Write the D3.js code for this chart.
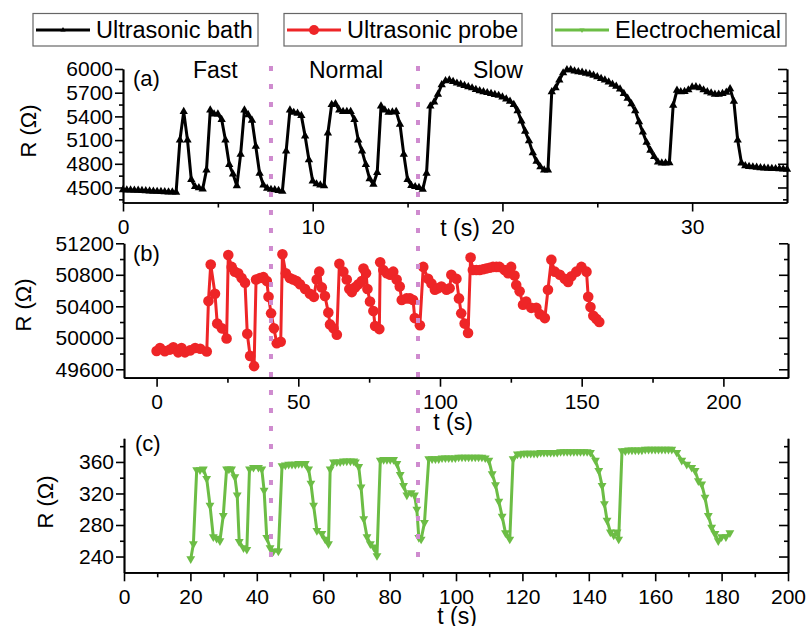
<!DOCTYPE html>
<html><head><meta charset="utf-8">
<script src="https://cdn.jsdelivr.net/npm/d3@7"></script>
<style>
body{margin:0;background:#fff}
svg{display:block}
text{font-family:"Liberation Sans",Arial,sans-serif;fill:#000}
</style>
</head><body>
<svg id="chart" width="806" height="626"></svg>
<script>
// ---------------- DATA ----------------
const seriesNames = ["Ultrasonic bath", "Ultrasonic probe", "Electrochemical"];
const panelLetters = ["(a)", "(b)", "(c)"];
const sectionLabels = ["Fast", "Normal", "Slow"];
const dividerTimes = [7.8, 15.55]; // seconds on panel (a) time axis

// (a) Ultrasonic bath: [t (s), R (Ω)]
const bathData = [
[0.0,4470],[0.2,4468],[0.4,4466],[0.6,4465],[0.8,4463],[1.0,4460],[1.2,4458],[1.4,4455],[1.6,4452],[1.8,4450],
[2.0,4448],[2.2,4445],[2.4,4443],[2.6,4442],[2.8,4440],[3.0,5100],[3.2,5460],[3.4,5100],[3.6,4600],[3.8,4510],
[4.0,4495],[4.2,4480],[4.4,4720],[4.6,5480],[4.8,5430],[5.0,5430],[5.2,5360],[5.4,5100],[5.6,4790],[5.8,4670],
[6.0,4520],[6.2,4920],[6.4,5480],[6.6,5420],[6.8,5350],[7.0,5020],[7.2,4680],[7.4,4530],[7.6,4490],[7.8,4475],
[8.0,4470],[8.2,4460],[8.4,4450],[8.6,4960],[8.8,5480],[9.0,5450],[9.2,5440],[9.4,5410],[9.6,5150],[9.8,4850],
[10.0,4580],[10.2,4545],[10.4,4530],[10.6,4520],[10.8,5190],[11.0,5550],[11.2,5560],[11.4,5480],[11.6,5460],[11.8,5460],
[12.0,5460],[12.2,5360],[12.4,5100],[12.6,4960],[12.8,4790],[13.0,4610],[13.2,4540],[13.4,4690],[13.6,5530],[13.8,5480],
[14.0,5450],[14.2,5455],[14.4,5460],[14.6,5300],[14.8,4920],[15.0,4600],[15.2,4525],[15.4,4510],[15.6,4500],[15.8,4475],
[16.0,4680],[16.2,5530],[16.4,5580],[16.6,5680],[16.8,5800],[17.0,5850],[17.2,5860],[17.4,5840],[17.6,5820],[17.8,5805],
[18.0,5790],[18.2,5775],[18.4,5760],[18.6,5740],[18.8,5725],[19.0,5710],[19.2,5700],[19.4,5690],[19.6,5675],[19.8,5665],
[20.0,5645],[20.2,5620],[20.4,5590],[20.6,5550],[20.8,5470],[21.0,5340],[21.2,5210],[21.4,5090],[21.6,4940],[21.8,4830],
[22.0,4760],[22.2,4720],[22.4,4720],[22.6,5710],[22.8,5760],[23.0,5860],[23.2,5950],[23.4,5990],[23.6,5990],[23.8,5975],
[24.0,5965],[24.2,5958],[24.4,5945],[24.6,5935],[24.8,5920],[25.0,5900],[25.2,5880],[25.4,5860],[25.6,5835],[25.8,5805],
[26.0,5780],[26.2,5745],[26.4,5690],[26.6,5630],[26.8,5560],[27.0,5470],[27.2,5330],[27.4,5200],[27.6,5070],[27.8,4970],
[28.0,4890],[28.2,4820],[28.4,4810],[28.6,4810],[28.8,4812],[29.0,5540],[29.2,5730],[29.4,5710],[29.6,5715],[29.8,5735],
[30.0,5770],[30.2,5775],[30.4,5760],[30.6,5735],[30.8,5710],[31.0,5695],[31.2,5680],[31.4,5680],[31.6,5690],[31.8,5705],
[32.0,5750],[32.2,5590],[32.4,5100],[32.6,4810],[32.8,4775],[33.0,4765],[33.2,4760],[33.4,4755],[33.6,4750],[33.8,4745],
[34.0,4742],[34.2,4740],[34.4,4738],[34.6,4735],[34.8,4732],[35.0,4730]
];

// (b) Ultrasonic probe
const probeData = [
[0,49832],[1.2,49870],[2.9,49830],[4.7,49850],[5.9,49880],[7.6,49815],[8.8,49870],[10,49815],[11.8,49840],[13.6,49870],
[15.4,49860],[17.7,49825],[18.3,50467],[19.1,50930],[20.6,50560],[21.4,50180],[23,50120],[24.7,49990],[25.3,51050],[26.5,50900],
[27.6,50840],[28.8,50820],[30,50760],[31.2,50700],[32,50050],[33,49770],[34.4,49640],[35.1,50740],[36.5,50760],[37.7,50770],
[38.9,50720],[39.5,50520],[40.4,50310],[41.4,50120],[42.4,49930],[43.8,49950],[44.4,51060],[45.6,50820],[47,50760],[48.2,50740],
[49.4,50720],[50.6,50680],[52.4,50620],[54.1,50560],[55.5,50520],[56.5,50740],[57.4,50840],[58.3,50640],[59.4,50530],[60.6,50320],
[61.2,50170],[62.4,50120],[63.6,50040],[64.5,50940],[65.9,50840],[67.1,50740],[68,50620],[68.9,50580],[70,50640],[71.2,50680],
[72.4,50720],[73,50880],[73.9,50820],[74.4,50620],[75.3,50460],[76.5,50340],[77.1,50150],[78.6,50110],[78.9,50960],[80,50860],
[81.2,50820],[82.4,50800],[83.5,50840],[84.7,50740],[85.8,50650],[86.5,50480],[88.2,50500],[89.4,50500],[90.5,50480],[91.1,50250],
[92.9,50160],[94.1,50900],[95.8,50750],[97,50690],[98.2,50610],[99.3,50630],[100.5,50650],[102.3,50610],[103.4,50630],[104,50800],
[105.8,50750],[106.7,50500],[107.5,50310],[108.7,50180],[109.9,50060],[110.8,51020],[111.6,50860],[112.8,50860],[114,50860],[115.2,50870],
[116.3,50880],[117.5,50890],[118.7,50900],[119.9,50900],[121,50900],[122.8,50860],[124,50820],[125.1,50900],[126.3,50790],[126.9,50670],
[128.1,50590],[129.3,50420],[130.4,50460],[132.2,50380],[134,50380],[135.2,50300],[137,50250],[138.1,50610],[139.3,50990],[140.5,50840],
[142.3,50800],[144,50750],[145.2,50710],[146.4,50780],[148.1,50840],[149.9,50900],[151.7,50840],[152.3,50520],[153.1,50390],[154.1,50280],
[155.2,50240],[156.2,50200]
];

// (c) Electrochemical
const echemData = [
[20.1,237],[20.9,256],[21.9,350],[22.9,350],[23.9,351],[24.9,339],[25.9,305],[26.9,265],[27.9,263],[28.9,260],
[29.9,292],[30.9,351],[31.6,351],[32.4,351],[33.4,341],[34.1,318],[34.7,259],[36,251],[37,249],[37.8,351],
[39,353],[40.5,353],[41.5,351],[42.2,324],[43,264],[44,251],[45,247],[46.5,247],[47.6,355],[48.6,356],
[49.6,357],[50.6,357],[51.6,357],[52.6,358],[53.6,358],[54.6,358],[55.6,351],[56.3,333],[57.1,305],[58.1,273],
[59.6,269],[60.6,262],[61.6,256],[62.1,351],[63.1,360],[64.1,360],[65.1,360],[66.1,361],[67.1,361],[68.2,361],
[69.2,361],[69.7,360],[70.7,354],[71.4,328],[72.2,288],[73.2,265],[74.2,256],[75.2,252],[76.2,241],[77.2,362],
[78.2,363],[79.2,363],[80.2,363],[81.2,363],[82.2,358],[83.2,344],[84.2,330],[85.2,318],[86.5,321],[87.5,318],
[88.2,300],[88.8,264],[89.5,262],[90.5,283],[91.8,364],[92.8,364],[93.8,364],[94.8,364],[95.8,365],[96.8,365],
[97.8,365],[98.8,365],[99.8,365],[100.8,366],[101.8,366],[102.8,366],[103.8,366],[104.8,366],[105.8,366],[106.8,366],
[107.8,366],[108.8,365],[109.9,362],[110.9,345],[111.9,331],[112.9,310],[113.9,291],[114.9,270],[116.2,262],[117.2,364],
[118.5,370],[119.5,370],[120.5,371],[121.5,371],[122.5,371],[123.5,371],[124.5,371],[125.5,372],[126.5,372],[127.5,372],
[128.5,372],[129.5,372],[130.5,372],[131.5,373],[132.5,373],[133.5,373],[134.5,373],[135.5,373],[136.5,373],[137.5,373],
[138.5,373],[139.5,373],[140.5,372],[142,362],[143,349],[144,330],[144.7,307],[145.5,286],[146.5,271],[147.5,267],
[148.5,271],[149,262],[150,374],[151,374],[152,375],[153,375],[154,375],[155,375],[156,375],[157,376],
[158,376],[159,376],[160,376],[161,376],[162,376],[163,376],[164,376],[165,376],[166.5,372],[168,362],
[169.5,357],[171,353],[172,349],[173,336],[174,332],[175,315],[176,292],[177,277],[178,269],[179,260],
[180,265],[181.3,265],[182.5,270]
];

// tick values
const bathXTicks = [0, 10, 20, 30];
const bathXMinor = [5, 15, 25];
const bathYTicks = [4500, 4800, 5100, 5400, 5700, 6000];
const bathYMinor = [4350, 4650, 4950, 5250, 5550, 5850];
const probeXTicks = [0, 50, 100, 150, 200];
const probeXMinor = [25, 75, 125, 175];
const probeYTicks = [49600, 50000, 50400, 50800, 51200];
const probeYMinor = [49800, 50200, 50600, 51000];
const echemXTicks = [0, 20, 40, 60, 80, 100, 120, 140, 160, 180, 200];
const echemXMinor = [10, 30, 50, 70, 90, 110, 130, 150, 170, 190];
const echemYTicks = [240, 280, 320, 360];
const echemYMinor = [260, 300, 340, 380];

// ---------------- DRAW ----------------
const svg = d3.select("#chart");
const BLACK = "#000", RED = "#ee2527", GREEN = "#6cbd45", PURPLE = "#cf8bcf";

const panels = [
  {data: bathData, color: BLACK, xd: [0, 35], xr: [123, 787], yd: [4310, 6000], yr: [202.5, 69],
   xt: bathXTicks, xm: bathXMinor, yt: bathYTicks, ym: bathYMinor, xpad: 8, letter: [133, 86],
   ttl: [460, 236], rlab: [28, 131], marker: "tri", lw: 3},
  {data: probeData, color: RED, xd: [-11.5, 222.8], xr: [124, 788], yd: [49493, 51200], yr: [377.7, 243.3],
   xt: probeXTicks, xm: probeXMinor, yt: probeYTicks, ym: probeYMinor, xpad: 7, letter: [133, 261],
   ttl: [453, 430], rlab: [23, 305], marker: "circle", lw: 3},
  {data: echemData, color: GREEN, xd: [0, 200], xr: [124, 788], yd: [220, 390], yr: [572.3, 438.3],
   xt: echemXTicks, xm: echemXMinor, yt: echemYTicks, ym: echemYMinor, xpad: 8, letter: [135, 451],
   ttl: [457, 624], rlab: [45, 502], marker: "dtri", lw: 3}
];

const scales = [];
panels.forEach((p, i) => {
  const x = d3.scaleLinear().domain(p.xd).range(p.xr);
  const y = d3.scaleLinear().domain(p.yd).range(p.yr);
  scales.push({x, y});
  const g = svg.append("g");
  const styleAxis = sel => {
    sel.selectAll("path.domain").attr("stroke", "#000").attr("stroke-width", 1.7);
    sel.selectAll(".tick line").attr("stroke", "#000").attr("stroke-width", 1.6);
    sel.selectAll(".tick text").style("font-size", "21px").style("font-family", '"Liberation Sans",Arial,sans-serif');
  };
  // left axis major
  g.append("g").attr("transform", `translate(${p.xr[0]},0)`)
    .call(d3.axisLeft(y).tickValues(p.yt).tickSize(8).tickSizeOuter(0).tickPadding(2).tickFormat(d3.format("d")))
    .call(styleAxis);
  g.append("g").attr("transform", `translate(${p.xr[0]},0)`)
    .call(d3.axisLeft(y).tickValues(p.ym).tickSize(4).tickSizeOuter(0).tickFormat(""))
    .call(styleAxis);
  // right axis (inward ticks)
  g.append("g").attr("transform", `translate(${p.xr[1]},0)`)
    .call(d3.axisLeft(y).tickValues(p.yt).tickSize(9).tickSizeOuter(0).tickFormat(""))
    .call(styleAxis);
  g.append("g").attr("transform", `translate(${p.xr[1]},0)`)
    .call(d3.axisLeft(y).tickValues(p.ym).tickSize(4).tickSizeOuter(0).tickFormat(""))
    .call(styleAxis);
  // bottom axis
  const y0 = p.yr[0];
  g.append("g").attr("transform", `translate(0,${y0})`)
    .call(d3.axisBottom(x).tickValues(p.xt).tickSize(9).tickSizeOuter(0).tickPadding(p.xpad).tickFormat(d3.format("d")))
    .call(styleAxis);
  g.append("g").attr("transform", `translate(0,${y0})`)
    .call(d3.axisBottom(x).tickValues(p.xm).tickSize(5).tickSizeOuter(0).tickFormat(""))
    .call(styleAxis);

  // line
  const line = d3.line().x(d => x(d[0])).y(d => y(d[1]));
  g.append("path").datum(p.data).attr("d", line).attr("fill", "none")
    .attr("stroke", p.color).attr("stroke-width", p.lw).attr("stroke-linejoin", "round");
  // markers
  if (p.marker === "circle") {
    g.append("g").selectAll("circle").data(p.data).join("circle")
      .attr("cx", d => x(d[0])).attr("cy", d => y(d[1])).attr("r", 5.3).attr("fill", p.color);
  } else {
    const sym = d3.symbol().type(d3.symbolTriangle).size(p.marker === "tri" ? 30 : 34);
    g.append("g").selectAll("path").data(p.data).join("path")
      .attr("d", sym)
      .attr("transform", d => `translate(${x(d[0])},${y(d[1])})` + (p.marker === "dtri" ? " rotate(180)" : ""))
      .attr("fill", p.color);
  }
  // letter
  g.append("text").attr("x", p.letter[0]).attr("y", p.letter[1]).style("font-size", "22px").text(panelLetters[i]);
  // x title
  g.append("text").attr("x", p.ttl[0]).attr("y", p.ttl[1]).attr("text-anchor", "middle")
    .style("font-size", "23px").text("t (s)");
  // y title
  g.append("text").attr("transform", `translate(${p.rlab[0]},${p.rlab[1]}) rotate(-90)`)
    .attr("text-anchor", "middle").attr("dy", "0.35em").style("font-size", "22px").text("R (Ω)");
});

// section labels on panel (a)
const sectionX = [193, 309, 473];
sectionLabels.forEach((s, i) => {
  svg.append("text").attr("x", sectionX[i]).attr("y", 78).style("font-size", "23px").text(s);
});

// divider dotted lines (drawn on top)
dividerTimes.forEach(t => {
  const xx = scales[0].x(t);
  svg.append("line").attr("x1", xx).attr("x2", xx).attr("y1", 66).attr("y2", 560)
    .attr("stroke", PURPLE).attr("stroke-width", 4).attr("stroke-dasharray", "5,13");
});

// legend
const legendBoxes = [[33, 258], [284, 522], [552, 786]];
const legendColors = [BLACK, RED, GREEN];
legendBoxes.forEach((b, i) => {
  const lg = svg.append("g");
  lg.append("rect").attr("x", b[0]).attr("y", 13.5).attr("width", b[1] - b[0]).attr("height", 32.5)
    .attr("fill", "#fff").attr("stroke", "#666").attr("stroke-width", 1.2);
  const lx0 = b[0] + 3, lx1 = b[0] + 57;
  lg.append("line").attr("x1", lx0).attr("x2", lx1).attr("y1", 30).attr("y2", 30)
    .attr("stroke", legendColors[i]).attr("stroke-width", 3);
  const cx = (lx0 + lx1) / 2;
  if (i === 1) {
    lg.append("circle").attr("cx", cx).attr("cy", 30).attr("r", 5).attr("fill", RED);
  } else {
    lg.append("path").attr("d", d3.symbol().type(d3.symbolTriangle).size(12))
      .attr("transform", `translate(${cx},30)` + (i === 2 ? " rotate(180)" : ""))
      .attr("fill", legendColors[i]);
  }
  lg.append("text").attr("x", b[0] + 63).attr("y", 37.5).style("font-size", "23.5px").text(seriesNames[i]);
});
</script>
</body></html>
